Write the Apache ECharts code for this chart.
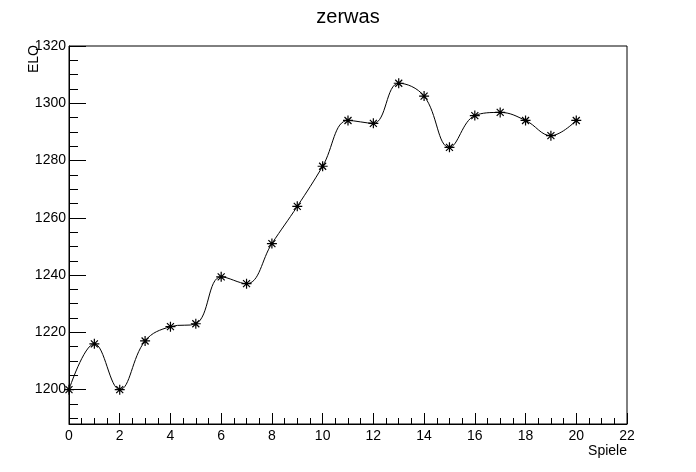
<!DOCTYPE html>
<html><head><meta charset="utf-8">
<script src="https://cdn.jsdelivr.net/npm/echarts@6/dist/echarts.min.js"></script>
<style>html,body{margin:0;padding:0;background:#fff}#c{width:696px;height:472px}</style>
</head><body><div id="c"></div>
<script>
const games = [0,1,2,3,4,5,6,7,8,9,10,11,12,13,14,15,16,17,18,19,20];
const elo = [1200,1216,1200,1217,1222,1223,1239.4,1237,1251,1264,1278,1294,1293,1307,1302.5,1284.6,1295.7,1296.8,1294,1288.7,1294];
const yMajorTicks = [1200,1220,1240,1260,1280,1300,1320];
const yMinorTicks = [1190,1195,1205,1210,1215,1225,1230,1235,1245,1250,1255,1265,1270,1275,1285,1290,1295,1305,1310,1315];
const titleText = 'zerwas';
const xName = 'Spiele';
const yName = 'ELO';

const font = 'Liberation Sans, Arial, Helvetica, sans-serif';
const chart = echarts.init(document.getElementById('c'), null, {renderer:'canvas'});
const star = 'path://M5,0L5,10M0,5L10,5M1.5,1.5L8.5,8.5M1.5,8.5L8.5,1.5';
chart.setOption({
  animation:false,
  backgroundColor:'#fff',
  title:{text:titleText,left:'center',top:2,textStyle:{fontFamily:font,fontWeight:'normal',fontSize:20,color:'#000'}},
  grid:{left:69,right:69,top:46,bottom:48,show:true,borderColor:'#000',borderWidth:1,backgroundColor:'transparent'},
  xAxis:{type:'value',min:0,max:22,interval:2,
    axisLine:{show:true,onZero:false,lineStyle:{color:'#000',width:1}},
    axisTick:{show:true,inside:true,length:11,lineStyle:{color:'#000'}},
    minorTick:{show:true,splitNumber:4,length:6,lineStyle:{color:'#000'}},
    splitLine:{show:false},
    axisLabel:{color:'#000',fontFamily:font,fontSize:14,margin:5,formatter:v=>String(v)}},
  yAxis:[{type:'value',min:1188,max:1320,position:'left',
    axisLine:{show:true,onZero:false,lineStyle:{color:'#000',width:1}},
    axisTick:{show:true,inside:true,length:17,customValues:yMajorTicks,lineStyle:{color:'#000'}},
    splitLine:{show:false},
    axisLabel:{color:'#000',fontFamily:font,fontSize:14,margin:3,customValues:yMajorTicks,formatter:v=>String(v)}},
   {type:'value',min:1188,max:1320,position:'left',offset:0,
    axisLine:{show:false},
    axisTick:{show:true,inside:true,length:9,customValues:yMinorTicks,lineStyle:{color:'#000'}},
    splitLine:{show:false},
    axisLabel:{show:false}}],
  graphic:[
    {type:'text',x:34,y:45,rotation:Math.PI/2,style:{text:yName,textAlign:'right',textVerticalAlign:'middle',fontFamily:font,fontSize:14,fill:'#000'}},
    {type:'text',x:627,y:451,style:{text:xName,textAlign:'right',textVerticalAlign:'middle',fontFamily:font,fontSize:14,fill:'#000'}}
  ],
  series:[{type:'line',data:games.map((g,i)=>[g,elo[i]]),smooth:0.4,
    lineStyle:{color:'#000',width:1},
    symbol:star,symbolSize:10,showSymbol:true,
    itemStyle:{color:'#000',borderColor:'#000',borderWidth:1.2}}]
});
</script></body></html>
